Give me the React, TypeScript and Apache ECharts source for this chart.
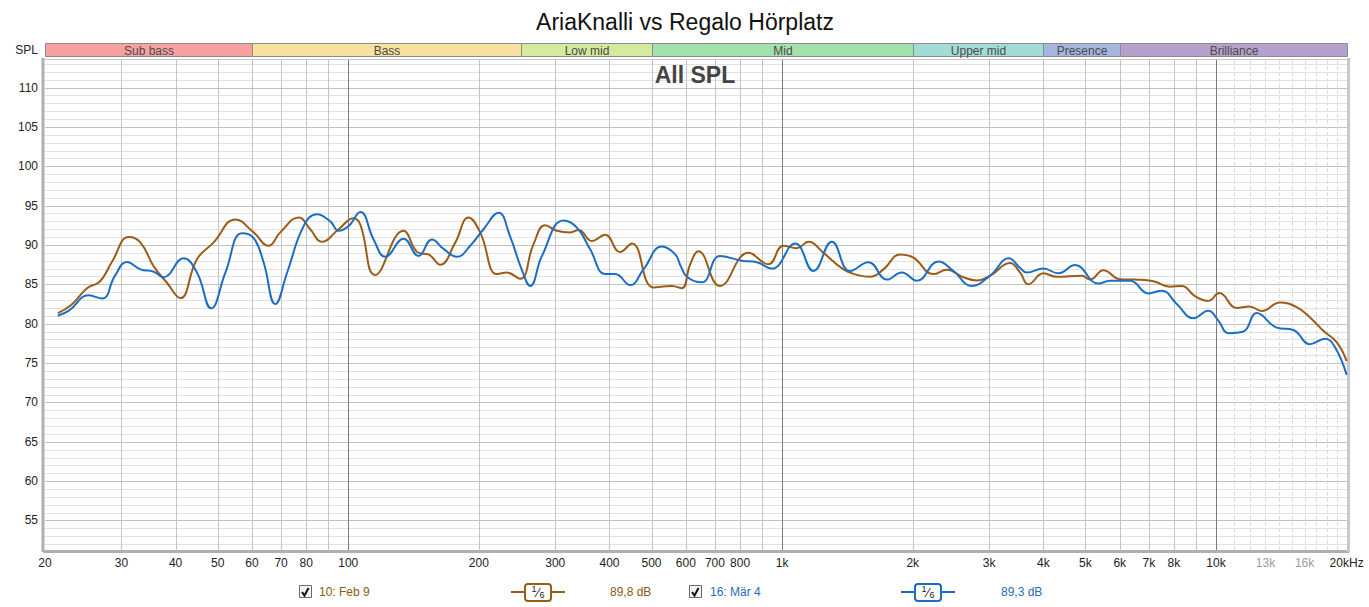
import React, { useEffect, useRef } from "react";
import * as echarts from "echarts";

const FONT = "'Liberation Sans', Arial, sans-serif";
const TITLE = "AriaKnalli vs Regalo Hörplatz";
const SUBTITLE = "All SPL";

const X_MIN = 20;
const X_MAX = 20040;
const Y_MIN = 51.25;
const Y_MAX = 113.5;

const bandNames = ["Sub bass", "Bass", "Low mid", "Mid", "Upper mid", "Presence", "Brilliance"];
const bandEdges = [20, 60, 250, 500, 2000, 4000, 6000, 20040];
const bandColors = ["#f7a1a1", "#f8e09e", "#d5ea9d", "#a3e2aa", "#a2ddd5", "#a6b6de", "#b5a1cb"];

const xTickFreqs = [20, 30, 40, 50, 60, 70, 80, 100, 200, 300, 400, 500, 600, 700, 800, 1000, 2000, 3000, 4000, 5000, 6000, 7000, 8000, 10000, 13000, 16000, 20000];
const xTickLabels = ["20", "30", "40", "50", "60", "70", "80", "100", "200", "300", "400", "500", "600", "700", "800", "1k", "2k", "3k", "4k", "5k", "6k", "7k", "8k", "10k", "13k", "16k", "20kHz"];
const xTickFaint = ["13k", "16k"];
const yTicks = [55, 60, 65, 70, 75, 80, 85, 90, 95, 100, 105, 110];

const vGridNormal = [30, 40, 50, 60, 70, 80, 90, 200, 300, 400, 500, 600, 700, 800, 900, 2000, 3000, 4000, 5000, 6000, 7000, 8000, 9000];
const vGridDecade = [100, 1000, 10000];
const vGridFine = [11000, 12000, 13000, 14000, 15000, 16000, 17000, 18000, 19000];

// Series 1: "10: Feb 9" (brown)
const brownFreq = [21.4, 22.9, 25.0, 26.8, 28.5, 31.2, 33.2, 35.6, 38.2, 41.0, 44.8, 48.9, 54.9, 60.5, 65.5, 69.7, 76.9, 81.7, 87.0, 95, 102.9, 106.6, 115.4, 134.1, 145.2, 153.1, 162.9, 176.4, 189.3, 201.4, 220, 232, 249, 267.3, 284.4, 302.7, 324.8, 339.4, 364.4, 391, 423, 450.5, 505.2, 557, 587, 614, 641, 719, 836.5, 929, 1007, 1081, 1150, 1245, 1385, 1486, 1595, 1712, 1871, 2007, 2233, 2396, 2617, 2809, 3015, 3352, 3535, 3695, 4000, 4295, 4904, 5124, 5500, 6008, 6508, 7170, 7834, 8336, 8945, 9600, 10177, 11157, 11935, 12745, 14045, 15345, 16468, 17670, 18970, 20005];
const brownSpl = [81.35, 82.3, 84.5, 85.4, 87.8, 91.0, 90.3, 87.3, 85.2, 83.25, 88.2, 90.3, 93.25, 91.6, 89.9, 91.6, 93.5, 92.0, 90.4, 92.0, 93.4, 92.6, 86.2, 91.8, 89.0, 88.8, 87.5, 90.3, 93.5, 91.6, 86.3, 86.5, 85.7, 90.1, 92.5, 91.8, 91.6, 91.9, 90.5, 91.3, 89.1, 90.2, 84.6, 84.8, 84.5, 87.55, 89.2, 84.8, 89.0, 87.55, 89.9, 89.6, 90.4, 89.0, 86.9, 86.2, 85.95, 86.9, 88.8, 88.4, 86.3, 86.85, 85.9, 85.5, 86.1, 87.7, 86.5, 85.0, 86.4, 85.95, 86.1, 85.6, 86.8, 85.65, 85.6, 85.4, 84.7, 84.8, 83.5, 82.9, 83.9, 82.0, 82.2, 81.6, 82.7, 82.1, 80.8, 79.1, 77.65, 75.25];

// Series 2: "16: Mär 4" (blue)
const blueFreq = [21.4, 22.7, 25.2, 27.1, 29.0, 30.9, 33.2, 35.6, 37.5, 41.7, 44.8, 48.3, 52.1, 56.9, 60.5, 63.8, 67.9, 72.3, 78.9, 84.7, 90.9, 95, 100.2, 106.6, 114.4, 121.7, 134.1, 145.2, 155.9, 165.8, 178, 191, 205, 222, 236, 251, 262.7, 279.5, 313.4, 336.5, 361, 391, 412.3, 446.5, 479, 528, 567, 584, 605, 653, 719, 807, 874.5, 947, 1072, 1181, 1302, 1434, 1581, 1743, 1887, 2044, 2292, 2482, 2735, 3015, 3330, 3535, 3662, 4000, 4331, 4733, 5355, 5699, 6337, 6982, 7497, 8119, 8867, 9600, 10123, 10676, 11561, 12408, 13800, 15076, 16468, 17830, 18804, 20005];
const blueSpl = [81.0, 81.65, 83.6, 83.2, 86.1, 87.85, 86.9, 86.6, 85.9, 88.3, 86.5, 81.95, 86.5, 91.5, 90.9, 87.8, 82.5, 86.5, 92.4, 93.9, 93.0, 91.8, 92.4, 94.2, 90.7, 88.5, 90.8, 88.6, 90.7, 89.5, 88.5, 89.9, 92.0, 94.1, 91.1, 86.9, 84.8, 88.6, 93.1, 92.2, 89.45, 86.3, 86.3, 84.9, 86.9, 89.8, 88.8, 87.3, 85.9, 85.25, 88.6, 88.0, 87.8, 87.0, 90.2, 86.7, 90.4, 86.7, 87.8, 85.6, 86.5, 85.45, 87.9, 86.7, 84.8, 86.1, 88.3, 87.1, 86.5, 87.0, 86.4, 87.45, 85.1, 85.45, 85.45, 83.85, 84.2, 82.5, 80.7, 81.65, 80.4, 78.8, 79.0, 81.35, 79.5, 79.2, 77.4, 78.1, 77.0, 73.5];

const BROWN = "#9b5c17";
const BLUE = "#1b6ec6";
const BROWN_TEXT = "#8a5a22";
const BLUE_TEXT = "#2a6cb8";

function vLineSeries(freqs: number[], stroke: string, dash?: number[]) {
  return {
    type: "custom",
    silent: true,
    z: 1,
    data: freqs.map((f) => [f, 80]),
    renderItem: (params: any, api: any) => {
      const cs = params.coordSys;
      const x = Math.round(api.coord([api.value(0), 80])[0]) + 0.5;
      return {
        type: "line",
        shape: { x1: x, y1: cs.y, x2: x, y2: cs.y + cs.height },
        style: { stroke, lineWidth: 1, lineDash: dash },
      };
    },
  };
}

function hLineSeries(values: number[], stroke: string) {
  return {
    type: "custom",
    silent: true,
    z: 1,
    data: values.map((v) => [100, v]),
    renderItem: (params: any, api: any) => {
      const cs = params.coordSys;
      const y = Math.round(api.coord([100, api.value(1)])[1]) + 0.5;
      return {
        type: "line",
        shape: { x1: cs.x, y1: y, x2: cs.x + cs.width, y2: y },
        style: { stroke, lineWidth: 1 },
      };
    },
  };
}

function buildOption() {
  const hMinor: number[] = [];
  for (let v = 52; v <= 113; v++) if (v % 5 !== 0) hMinor.push(v);

  const brownData = brownFreq.map((f, i) => [f, brownSpl[i]]);
  const blueData = blueFreq.map((f, i) => [f, blueSpl[i]]);

  const legendY = 592;
  const checkbox = (x: number) => [
    { type: "rect", shape: { x: x + 0.5, y: legendY - 6.5, width: 12, height: 12 }, style: { fill: "#f2f2f2", stroke: "#6a6a6a", lineWidth: 1 } },
    { type: "polyline", shape: { points: [[x + 3, legendY], [x + 5.5, legendY + 3.5], [x + 9.5, legendY - 4]] }, style: { stroke: "#111", lineWidth: 2, fill: null } },
  ];
  const smoothSym = (x: number, color: string) => [
    { type: "line", shape: { x1: x, y1: legendY, x2: x + 54, y2: legendY }, style: { stroke: color, lineWidth: 2 } },
    { type: "rect", shape: { x: x + 14, y: legendY - 8, width: 26, height: 17, r: 3 }, style: { fill: "#fff", stroke: color, lineWidth: 2 } },
    { type: "text", x: x + 23, y: legendY - 3, style: { text: "1", fill: "#222", font: `9px ${FONT}`, align: "center", verticalAlign: "middle" } },
    { type: "text", x: x + 27, y: legendY, style: { text: "⁄", fill: "#222", font: `13px ${FONT}`, align: "center", verticalAlign: "middle" } },
    { type: "text", x: x + 31, y: legendY + 3, style: { text: "6", fill: "#222", font: `9px ${FONT}`, align: "center", verticalAlign: "middle" } },
  ];
  const ltext = (x: number, text: string, color: string) => ({
    type: "text", x, y: legendY, style: { text, fill: color, font: `12px ${FONT}`, align: "left", verticalAlign: "middle" },
  });

  return {
    animation: false,
    backgroundColor: "#ffffff",
    grid: { left: 45, right: 22, top: 60, bottom: 57, containLabel: false },
    xAxis: {
      type: "log",
      logBase: 10,
      min: X_MIN,
      max: X_MAX,
      axisLine: { show: false },
      axisTick: { show: false },
      axisLabel: { show: false },
      splitLine: { show: false },
    },
    yAxis: {
      type: "value",
      min: Y_MIN,
      max: Y_MAX,
      axisLine: { show: false },
      axisTick: { show: false },
      axisLabel: { show: false },
      splitLine: { show: false },
    },
    graphic: [
      { type: "text", x: 685, y: 22, style: { text: TITLE, fill: "#111", font: `23px ${FONT}`, align: "center", verticalAlign: "middle" } },
      { type: "text", x: 38, y: 50, style: { text: "SPL", fill: "#222", font: `12px ${FONT}`, align: "right", verticalAlign: "middle" } },
      { type: "text", x: 695, y: 75, z: 10, style: { text: SUBTITLE, fill: "#444", font: `bold 23px ${FONT}`, align: "center", verticalAlign: "middle" } },
      // frame shading
      { type: "line", z: 0, shape: { x1: 43, y1: 58, x2: 43, y2: 552 }, style: { stroke: "#b0b0b0", lineWidth: 3 } },
      { type: "line", z: 0, shape: { x1: 43, y1: 551.5, x2: 1349, y2: 551.5 }, style: { stroke: "#b0b0b0", lineWidth: 3 } },
      { type: "line", z: 0, shape: { x1: 1348.5, y1: 58, x2: 1348.5, y2: 552 }, style: { stroke: "#c8c8c8", lineWidth: 3 } },
      { type: "line", z: 0, shape: { x1: 44, y1: 59.5, x2: 1348, y2: 59.5 }, style: { stroke: "#c8c8c8", lineWidth: 1 } },
      ...checkbox(299),
      ltext(319, "10: Feb 9", BROWN_TEXT),
      ...smoothSym(511, BROWN),
      ltext(610, "89,8 dB", BROWN_TEXT),
      ...checkbox(689),
      ltext(710, "16: Mär 4", BLUE_TEXT),
      ...smoothSym(901, BLUE),
      ltext(1001, "89,3 dB", BLUE_TEXT),
    ],
    series: [
      hLineSeries(hMinor, "#e2e2e2"),
      hLineSeries(yTicks, "#c2c2c2"),
      vLineSeries(vGridFine, "#dcdcdc", [4, 2]),
      vLineSeries(vGridNormal, "#c4c4c4"),
      vLineSeries(vGridDecade, "#7c7c7c"),
      // band bar
      {
        type: "custom",
        silent: true,
        z: 2,
        data: bandNames.map((_, i) => [bandEdges[i], 80, bandEdges[i + 1]]),
        renderItem: (params: any, api: any) => {
          const cs = params.coordSys;
          const i = params.dataIndex;
          const x1 = Math.round(api.coord([api.value(0), 80])[0]) + 0.5;
          const x2 = Math.min(Math.round(api.coord([api.value(2), 80])[0]) + 0.5, cs.x + cs.width + 0.5);
          const top = cs.y - 16.5;
          return {
            type: "group",
            children: [
              { type: "rect", shape: { x: x1, y: top, width: x2 - x1, height: 13 }, style: { fill: bandColors[i], stroke: "#8c8c8c", lineWidth: 1 } },
              { type: "text", x: (x1 + x2) / 2, y: top + 7, style: { text: bandNames[i], fill: "#4a4a4a", font: `12px ${FONT}`, align: "center", verticalAlign: "middle" } },
            ],
          };
        },
      },
      // x labels
      {
        type: "custom",
        silent: true,
        z: 2,
        data: xTickFreqs.map((f) => [f, Y_MIN]),
        renderItem: (params: any, api: any) => {
          const cs = params.coordSys;
          const label = xTickLabels[params.dataIndex];
          const p = api.coord([api.value(0), Y_MIN]);
          return {
            type: "text",
            x: p[0],
            y: cs.y + cs.height + 13,
            style: { text: label, fill: xTickFaint.includes(label) ? "#9a9a9a" : "#222", font: `12px ${FONT}`, align: "center", verticalAlign: "middle" },
          };
        },
      },
      // y labels
      {
        type: "custom",
        silent: true,
        z: 2,
        data: yTicks.map((v) => [100, v]),
        renderItem: (params: any, api: any) => {
          const cs = params.coordSys;
          const p = api.coord([100, api.value(1)]);
          return {
            type: "text",
            x: cs.x - 7,
            y: p[1],
            style: { text: String(yTicks[params.dataIndex]), fill: "#222", font: `12px ${FONT}`, align: "right", verticalAlign: "middle" },
          };
        },
      },
      {
        name: "10: Feb 9",
        type: "line",
        z: 5,
        data: brownData,
        smooth: 0.45,
        symbol: "none",
        lineStyle: { color: BROWN, width: 2 },
      },
      {
        name: "16: Mär 4",
        type: "line",
        z: 6,
        data: blueData,
        smooth: 0.45,
        symbol: "none",
        lineStyle: { color: BLUE, width: 2 },
      },
    ],
  };
}

export default function App() {
  const ref = useRef<HTMLDivElement>(null);
  useEffect(() => {
    if (!ref.current) return;
    const chart = echarts.init(ref.current, null, { renderer: "svg" });
    chart.setOption(buildOption() as any);
    return () => chart.dispose();
  }, []);
  return (
    <div
      ref={ref}
      style={{ position: "fixed", left: 0, top: 0, width: 1369, height: 607, background: "#fff" }}
    />
  );
}
